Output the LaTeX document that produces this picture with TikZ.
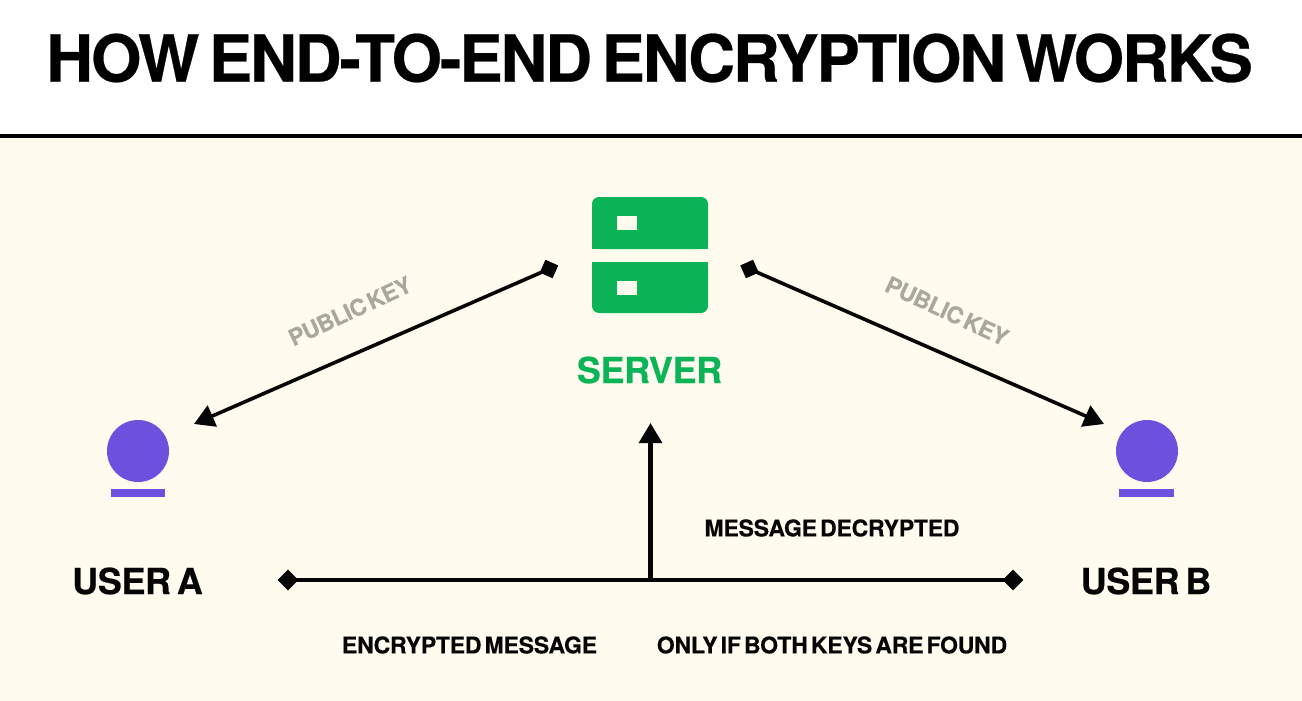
\documentclass[tikz,border=0pt]{standalone}
\usepackage{fontspec}
\setmainfont{TeX Gyre Heros}
\newfontface\titlefont{TeX Gyre Heros Bold}[LetterSpace=-3.4,WordSpace=0.6,FakeBold=0.4]
\newfontface\lblfont{TeX Gyre Heros Bold}[LetterSpace=-0.9,WordSpace=0.5,FakeBold=0.35]
\newfontface\userfont{TeX Gyre Heros Bold}[LetterSpace=-1.0,WordSpace=0.6,FakeBold=0.4]
\newfontface\keyfont{TeX Gyre Heros Bold}[LetterSpace=-2.0,WordSpace=0.5,FakeBold=0.2]
\usetikzlibrary{arrows.meta,shapes.geometric}
\definecolor{cream}{HTML}{FFFBEF}
\definecolor{srvgreen}{HTML}{0BB457}
\definecolor{usrpurple}{HTML}{6E50DF}
\definecolor{keygrey}{HTML}{A9A89F}
\definecolor{inkblack}{HTML}{050505}
\tikzset{
  x=1pt,y=-1pt,
  lbl/.style={inner sep=0,text=inkblack,font=\lblfont\fontsize{23}{23}\selectfont},
  userlbl/.style={inner sep=0,text=inkblack,font=\userfont\fontsize{36}{36}\selectfont},
  keylbl/.style={inner sep=0,text=keygrey,font=\keyfont\fontsize{23}{23}\selectfont},
  conn/.style={draw=inkblack,line width=3.6pt},
  tip/.style={-{Triangle[length=20pt,width=22.5pt]}},
  sq/.style={fill=inkblack,minimum size=14pt,inner sep=0},
  dia/.style={diamond,fill=inkblack,minimum size=21pt,inner sep=0},
  usercirc/.style={circle,fill=usrpurple,minimum size=62pt,inner sep=0},
  userbar/.style={fill=usrpurple,minimum width=54.5pt,minimum height=8pt,inner sep=0},
  rack/.style={fill=srvgreen},
  slot/.style={fill=cream,minimum width=20pt,minimum height=14pt,inner sep=0},
}
\begin{document}
\begin{tikzpicture}
\useasboundingbox (0,0) rectangle (1302,701);
\fill[white] (0,0) rectangle (1302,136);
\fill[cream] (0,136) rectangle (1302,701);
\draw[black,line width=3.5pt] (0,136) -- (1302,136);
\node[inner sep=0,text=black,font=\titlefont\fontsize{65}{65}\selectfont] (title) at (649.5,58) {HOW END-TO-END ENCRYPTION WORKS};

\fill[rack,rounded corners=7pt] (592,249) -- (592,197) -- (708,197) -- (708,249) -- cycle;
\fill[rack,rounded corners=7pt] (592,262) -- (708,262) -- (708,313) -- (592,313) -- cycle;
\fill[rack] (592,240) rectangle (708,249);
\fill[rack] (592,262) rectangle (708,272);
\node[slot] (slotA) at (627,223) {};
\node[slot] (slotB) at (627,288) {};
\node[inner sep=0,text=srvgreen,font=\userfont\fontsize{36}{36}\selectfont] (server) at (649.5,370) {SERVER};

\node[usercirc] (circA) at (138,451) {};
\node[userbar] (barA) at (138,493) {};
\node[usercirc] (circB) at (1147,451) {};
\node[userbar] (barB) at (1146.5,493) {};
\node[userlbl] (userA) at (137.5,581) {USER A};
\node[userlbl] (userB) at (1146,581) {USER B};

\node[sq,rotate=-24] (sqL) at (549,269) {};
\node[sq,rotate=24] (sqR) at (749.5,269) {};
\coordinate (tipL) at (194,424);
\coordinate (tipR) at (1104,424);
\node[dia] (diaL) at (288,580) {};
\node[dia] (diaR) at (1013,580) {};
\coordinate (junction) at (650.5,580);
\coordinate (tipUp) at (650.5,423);

\draw[conn,tip] (sqL.center) -- (tipL);
\draw[conn,tip] (sqR.center) -- (tipR);
\draw[conn] (diaL.center) -- (diaR.center);
\draw[conn,line width=4.5pt,tip] (junction) -- (tipUp);

\node[keylbl,rotate=25] (keyL) at (350,311) {PUBLIC KEY};
\node[keylbl,rotate=-25] (keyR) at (947,311) {PUBLIC KEY};
\node[lbl] (decr) at (832,528) {MESSAGE DECRYPTED};
\node[lbl] (enc) at (469.5,645) {ENCRYPTED MESSAGE};
\node[lbl] (only) at (832,645) {ONLY IF BOTH KEYS ARE FOUND};
\end{tikzpicture}
\end{document}
